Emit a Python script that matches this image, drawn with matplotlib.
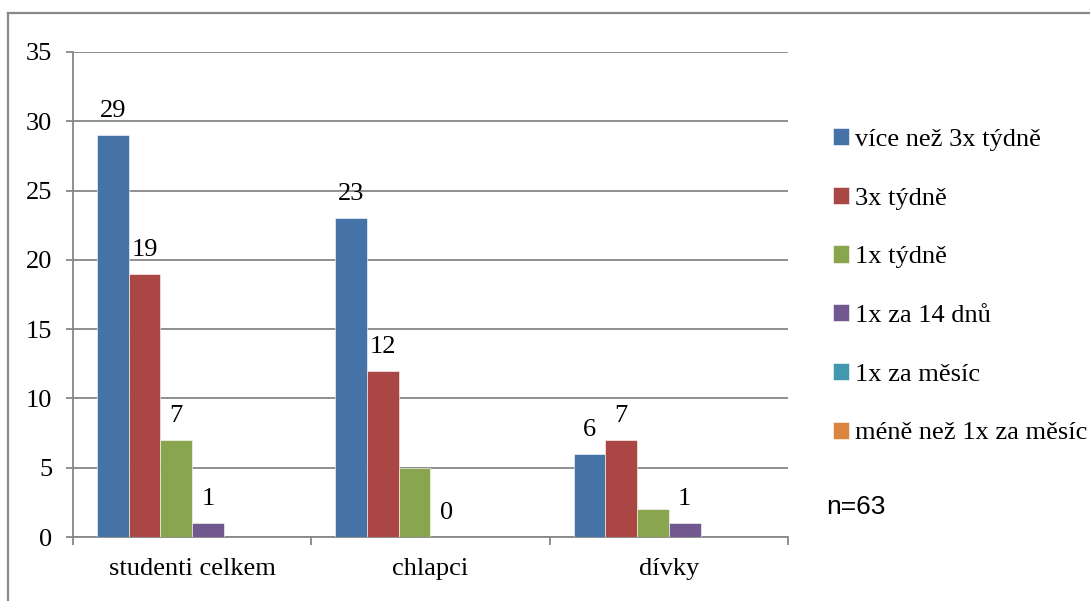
import matplotlib
matplotlib.use("Agg")
import matplotlib.pyplot as plt
from matplotlib.lines import Line2D
import numpy as np

categories = ["studenti celkem", "chlapci", "dívky"]
series_names = ["více než 3x týdně", "3x týdně", "1x týdně",
                "1x za 14 dnů", "1x za měsíc", "méně než 1x za měsíc"]
values = [
    [29, 23, 6],   # více než 3x týdně
    [19, 12, 7],   # 3x týdně
    [7, 5, 2],     # 1x týdně
    [1, 0, 1],     # 1x za 14 dnů
    [0, 0, 0],     # 1x za měsíc
    [0, 0, 0],     # méně než 1x za měsíc
]
# which bars carry a value label (per series, per category)
show_label = [
    [True, True, True],
    [True, True, True],
    [True, False, False],
    [True, True, True],
    [False, False, False],
    [False, False, False],
]
colors = ["#4572A7", "#AA4643", "#89A54E", "#71588F", "#4198AF", "#DB843D"]
note = "n=63"

serif = ["Liberation Serif", "DejaVu Serif"]
grid_col = "#878787"
fs = 19

fig = plt.figure(figsize=(10.90, 6.01), dpi=100)
W, H = 1090, 601
ax = fig.add_axes([73 / W, 1 - 537 / H, (788 - 73) / W, (537 - 52) / H])

x = np.arange(len(categories))
bw = 0.133
n = len(series_names)
for i, (name, vals, col) in enumerate(zip(series_names, values, colors)):
    pos = x + (i - (n - 1) / 2) * bw
    ax.bar(pos, vals, width=bw, color=col, edgecolor="white", linewidth=0.4,
           label=name, zorder=3)
    for p, v, show in zip(pos, vals, show_label[i]):
        if show:
            ax.annotate(str(v), (p, v), xytext=(0, 13), textcoords="offset points",
                        ha="center", va="baseline", fontsize=fs, family=serif)

ax.set_xlim(-0.5, 2.5)
ax.set_ylim(0, 35)
ax.set_yticks(range(0, 36, 5))
ax.yaxis.grid(True, color=grid_col, linewidth=1.3, zorder=0)
ax.set_axisbelow(True)

ax.set_xticks([-0.5, 0.5, 1.5, 2.5])
ax.set_xticklabels([])
ax.set_xticks(x, minor=True)
ax.set_xticklabels(categories, minor=True, fontsize=fs, family=serif)
ax.tick_params(axis="x", which="minor", length=0, pad=15)
ax.tick_params(axis="x", which="major", length=6, width=1.3, color=grid_col, direction="out")
ax.tick_params(axis="y", length=5, width=1.3, color=grid_col, pad=10, labelsize=fs)
for lab in ax.get_yticklabels():
    lab.set_family(serif)

for s in ["top", "right"]:
    ax.spines[s].set_visible(False)
for s in ["left", "bottom"]:
    ax.spines[s].set_color(grid_col)
    ax.spines[s].set_linewidth(1.3)

# legend column
handles, labels = ax.get_legend_handles_labels()
leg = fig.legend(handles, labels, loc="upper left",
                 bbox_to_anchor=(833 / W, 1 - 128 / H),
                 frameon=False, prop={"family": serif, "size": fs},
                 handlelength=0.62, handleheight=0.62, handletextpad=0.2,
                 labelspacing=1.36, borderaxespad=0, borderpad=0)

fig.text(826 / W, 1 - 507 / H, note, fontsize=19, family=["Liberation Sans", "DejaVu Sans"],
         ha="left", va="center")

# outer frame
fig.add_artist(Line2D([8 / W, 8 / W], [0, 1 - 13 / H], transform=fig.transFigure,
                      color="#888888", linewidth=1.6))
fig.add_artist(Line2D([8 / W, 1], [1 - 13 / H, 1 - 13 / H], transform=fig.transFigure,
                      color="#888888", linewidth=1.6))

fig.savefig("out.png", dpi=100)
